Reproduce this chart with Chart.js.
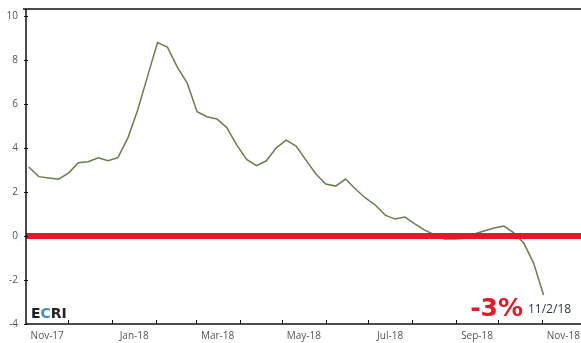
<!DOCTYPE html>
<html>
<head>
<meta charset="utf-8">
<script src="https://cdn.jsdelivr.net/npm/chart.js@4.4.0/dist/chart.umd.min.js"></script>
<style>
  html, body { margin: 0; padding: 0; background: #fff; }
  #wrap { width: 581px; height: 343px; position: relative; }
</style>
</head>
<body>
<div id="wrap"><canvas id="growthChart"></canvas></div>
<script>
// ==================== WEEKLY GROWTH RATE, NOV-17 TO NOV-18 ====================

// first reading (a Friday), then one reading per week
const firstWeek = '2017-11-03';
const growthValues = [
    3.14, 2.70, 2.64, 2.58, 2.86, 3.33, 3.38, 3.56, 3.42, 3.56,
    4.45, 5.73, 7.27, 8.79, 8.59, 7.68, 6.95, 5.65, 5.42, 5.32,
    4.93, 4.14, 3.48, 3.20, 3.42, 4.01, 4.36, 4.09, 3.45, 2.82,
    2.36, 2.27, 2.59, 2.14, 1.73, 1.41, 0.95, 0.77, 0.86, 0.55,
    0.27, 0.05, -0.14, -0.14, -0.10, 0.09, 0.23, 0.36, 0.45, 0.14,
    -0.32, -1.23, -2.68
];

const monthLabels = ['Nov-17', 'Jan-18', 'Mar-18', 'May-18', 'Jul-18', 'Sep-18', 'Nov-18'];
const labelMonths = ['2017-11', '2018-01', '2018-03', '2018-05', '2018-07', '2018-09', '2018-11'];
const yTicks = [-4, -2, 0, 2, 4, 6, 8, 10];
const lastDateLabel = '11/2/18';

// x axis is measured in days from the first of the starting month
const origin = Date.UTC(2017, 10, 1);
const DAY = 86400000;
const dayOf = (d) => (d - origin) / DAY;

const start = new Date(firstWeek + 'T00:00:00Z').getTime();
const points = growthValues.map((v, i) => ({ x: dayOf(start) + 7 * i, y: v }));

// month boundaries (tick marks) and mid-month label positions
const monthStarts = [];
for (let m = 0; m <= 13; m++) {
    monthStarts.push(dayOf(Date.UTC(2017, 10 + m, 1)));
}
const labelPositions = labelMonths.map(s => {
    const [yr, mo] = s.split('-').map(Number);
    const a = dayOf(Date.UTC(yr, mo - 1, 1));
    const b = dayOf(Date.UTC(yr, mo, 1));
    return (a + b) / 2;
});

const RED = '#e3192a';

const framePlugin = {
    id: 'frame',
    afterDatasetsDraw(chart) {
        const { ctx, chartArea, scales } = chart;
        const x = scales.x, y = scales.y;
        ctx.save();

        // zero line
        const y0 = y.getPixelForValue(0);
        ctx.strokeStyle = RED;
        ctx.lineWidth = 6;
        ctx.beginPath();
        ctx.moveTo(chartArea.left, y0);
        ctx.lineTo(chart.width, y0);
        ctx.stroke();

        // axes and top rule
        ctx.strokeStyle = '#111';
        ctx.lineWidth = 1.5;
        ctx.beginPath();
        ctx.moveTo(chartArea.left - 3, chartArea.top);
        ctx.lineTo(chart.width, chartArea.top);
        ctx.moveTo(chartArea.left, chartArea.top);
        ctx.lineTo(chartArea.left, chartArea.bottom);
        ctx.lineTo(chart.width, chartArea.bottom);
        ctx.stroke();

        // month tick marks
        ctx.lineWidth = 1;
        ctx.beginPath();
        monthStarts.forEach(d => {
            const px = Math.round(x.getPixelForValue(d)) + 0.5;
            if (px <= chartArea.left + 2 || px > chart.width) return;
            ctx.moveTo(px, chartArea.bottom);
            ctx.lineTo(px, chartArea.bottom - 4);
        });
        // y tick marks
        yTicks.forEach(v => {
            const py = Math.round(y.getPixelForValue(v)) + 0.5;
            ctx.moveTo(chartArea.left - 2, py);
            ctx.lineTo(chartArea.left + 2, py);
        });
        ctx.stroke();

        // ECRI mark
        ctx.textBaseline = 'alphabetic';
        ctx.textAlign = 'left';
        ctx.font = 'bold 14px "DejaVu Sans", sans-serif';
        let lx = 31;
        const ly = 318;
        [['E', '#222'], ['C', '#3b8dd0'], ['RI', '#222']].forEach(([t, c]) => {
            ctx.fillStyle = c;
            ctx.fillText(t, lx, ly);
            lx += ctx.measureText(t).width;
        });

        // latest reading
        const last = growthValues[growthValues.length - 1];
        ctx.fillStyle = RED;
        ctx.font = 'bold 25px "DejaVu Sans", sans-serif';
        ctx.textAlign = 'right';
        ctx.fillText(Math.round(last) + '%', 523, 316);
        ctx.fillStyle = '#2c3550';
        ctx.font = '12px "Open Sans", sans-serif';
        ctx.textAlign = 'left';
        ctx.fillText(lastDateLabel, 528, 313);

        ctx.restore();
    }
};

new Chart(document.getElementById('growthChart'), {
    type: 'line',
    data: {
        datasets: [{
            data: points,
            borderColor: '#6a7d50',
            borderWidth: 1.5,
            pointRadius: 0,
            tension: 0,
            fill: false
        }]
    },
    options: {
        responsive: true,
        maintainAspectRatio: false,
        animation: false,
        layout: { autoPadding: false, padding: { top: 9, right: 0, left: 0, bottom: 0 } },
        plugins: {
            legend: { display: false },
            tooltip: { enabled: false }
        },
        scales: {
            x: {
                type: 'linear',
                min: 0,
                max: 392.5,
                border: { display: false },
                grid: { display: false, drawTicks: false },
                afterBuildTicks(scale) {
                    scale.ticks = labelPositions.map(v => ({ value: v }));
                },
                afterFit(scale) {
                    scale.height = 19;
                    scale.paddingLeft = 0;
                    scale.paddingRight = 0;
                },
                ticks: {
                    autoSkip: false,
                    maxRotation: 0,
                    padding: 6,
                    color: '#555',
                    font: { size: 10, family: '"Open Sans", sans-serif' },
                    callback(value, index) { return monthLabels[index]; }
                }
            },
            y: {
                min: -4,
                max: 10.32,
                border: { display: false },
                grid: { display: false, drawTicks: false },
                afterBuildTicks(scale) {
                    scale.ticks = yTicks.map(v => ({ value: v }));
                },
                afterFit(scale) {
                    scale.width = 26;
                    scale.paddingTop = 0;
                    scale.paddingBottom = 0;
                },
                ticks: {
                    padding: 8,
                    color: '#555',
                    font: { size: 10, family: '"Open Sans", sans-serif' },
                    callback(value) { return value; }
                }
            }
        }
    },
    plugins: [framePlugin]
});
</script>
</body>
</html>
